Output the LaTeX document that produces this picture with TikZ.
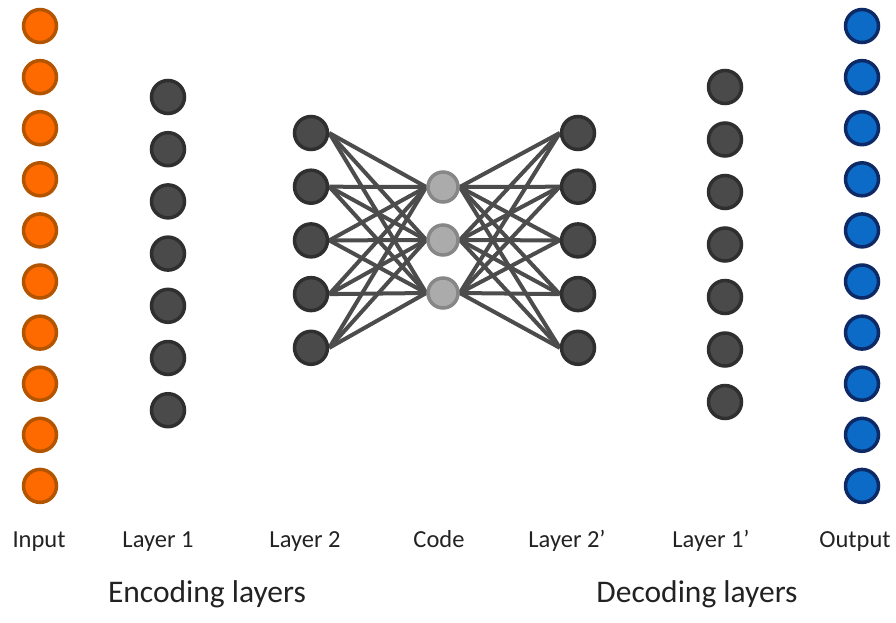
\documentclass[tikz,border=0pt]{standalone}
\usepackage{fontspec}
\setmainfont{Carlito}
\usetikzlibrary{backgrounds}
\definecolor{orfill}{HTML}{FF6A00}
\definecolor{ordraw}{HTML}{B35500}
\definecolor{blfill}{HTML}{0C6BC6}
\definecolor{bldraw}{HTML}{0D2A66}
\definecolor{hfill}{HTML}{4A4A4A}
\definecolor{hdraw}{HTML}{2F2F2F}
\definecolor{cfill}{HTML}{ABABAB}
\definecolor{cdraw}{HTML}{878787}
\definecolor{edgecol}{HTML}{4C4C4C}
\definecolor{txt}{HTML}{222222}
\tikzset{
  neuron/.style={circle, inner sep=0pt, minimum size=33pt, line width=3.5pt},
  inpnode/.style={neuron, fill=orfill, draw=ordraw},
  outnode/.style={neuron, fill=blfill, draw=bldraw},
  hidnode/.style={neuron, fill=hfill, draw=hdraw},
  codenode/.style={neuron, minimum size=30pt, fill=cfill, draw=cdraw},
  conn/.style={draw=edgecol, line width=4pt},
  lbl/.style={font=\fontsize{24.5}{28}\selectfont, text=txt, inner sep=0pt, anchor=base},
  head/.style={font=\fontsize{31.5}{36}\selectfont, text=txt, inner sep=0pt, anchor=base}
}
\begin{document}
\begin{tikzpicture}[x=1pt, y=-1pt]
\useasboundingbox (0,0) rectangle (896,622);
\foreach \i in {0,...,9} {
  \node[inpnode] (in\i) at (40, {26+51.1*\i}) {};
  \node[outnode] (out\i) at (862, {26+51.1*\i}) {};
}
\foreach \i in {0,...,6} {
  \node[hidnode] (la\i) at (168, {97+52.2*\i}) {};
  \node[hidnode] (lb\i) at (725, {87+52.5*\i}) {};
}
\foreach \i in {0,...,4} {
  \node[hidnode] (ma\i) at (311, {133+53.7*\i}) {};
  \node[hidnode] (mb\i) at (578, {133+53.7*\i}) {};
}
\foreach \j in {0,1,2} {
  \node[codenode] (c\j) at (443, {187+53*\j}) {};
}
\begin{scope}[on background layer]
\foreach \i in {0,...,4} {
  \foreach \j in {0,1,2} {
    \draw[conn] (ma\i.east) -- (c\j.west);
    \draw[conn] (c\j.east) -- (mb\i.west);
  }
}
\end{scope}
\node[lbl] (tin) at (39,547) {Input};
\node[lbl] (tl1) at (158,547) {Layer 1};
\node[lbl] (tl2) at (305,547) {Layer 2};
\node[lbl] (tcode) at (439,547) {Code};
\node[lbl] (tl2p) at (567,547) {Layer 2’};
\node[lbl] (tl1p) at (711,547) {Layer 1’};
\node[lbl] (tout) at (855,547) {Output};
\node[head] (tenc) at (207,602) {Encoding layers};
\node[head] (tdec) at (697,602) {Decoding layers};
\end{tikzpicture}
\end{document}
